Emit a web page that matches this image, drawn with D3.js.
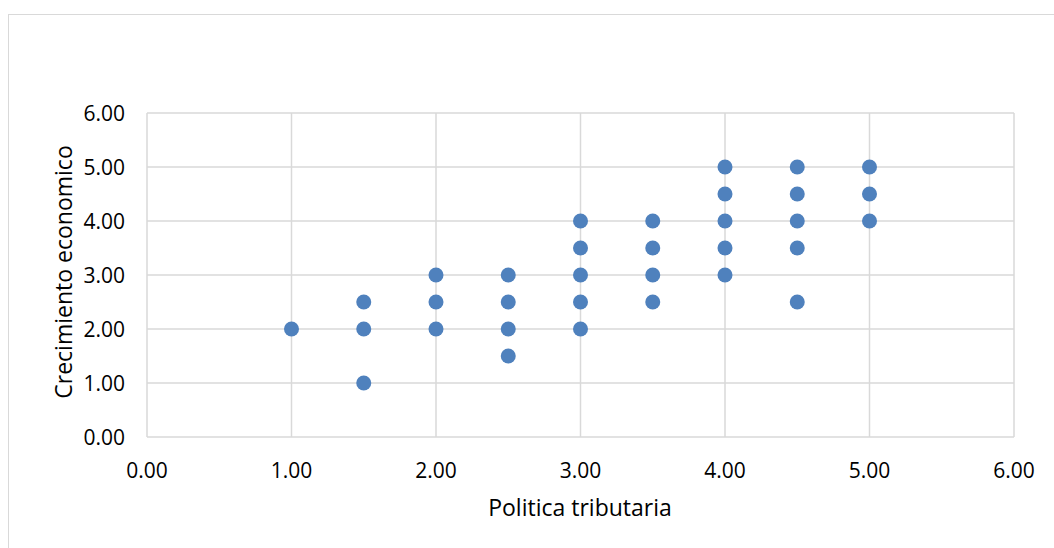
<!DOCTYPE html>
<html><head><meta charset="utf-8">
<script src="https://cdn.jsdelivr.net/npm/d3@7"></script>
<style>body{margin:0;background:#fff}svg{display:block}text{font-family:"Open Sans","Noto Sans",sans-serif;fill:#000}</style>
</head><body><svg id="c" width="1054" height="548"></svg>
<script>
const xTicks = [0,1,2,3,4,5,6];
const yTicks = [0,1,2,3,4,5,6];
const xValues = [1, 1.5,1.5,1.5, 2,2,2, 2.5,2.5,2.5,2.5, 3,3,3,3,3, 3.5,3.5,3.5,3.5, 4,4,4,4,4, 4.5,4.5,4.5,4.5,4.5, 5,5,5];
const yValues = [2, 2.5,2,1, 3,2.5,2, 3,2.5,2,1.5, 4,3.5,3,2.5,2, 4,3.5,3,2.5, 5,4.5,4,3.5,3, 5,4.5,4,3.5,2.5, 5,4.5,4];
const xTitle = "Politica tributaria";
const yTitle = "Crecimiento economico";

const svg = d3.select("#c");
svg.append("rect").attr("x",8.5).attr("y",14.5).attr("width",1060).attr("height",560)
  .attr("fill","#fff").attr("stroke","#d9d9d9").attr("stroke-width",1);
const L=147,R=1014,T=113,B=437;
const x=d3.scaleLinear().domain([0,6]).range([L,R]);
const y=d3.scaleLinear().domain([0,6]).range([B,T]);
const g=svg.append("g");
g.selectAll(".vx").data(xTicks).join("line").attr("x1",d=>x(d)).attr("x2",d=>x(d)).attr("y1",T).attr("y2",B)
  .attr("stroke","#d9d9d9").attr("stroke-width",1.5);
g.selectAll(".hy").data(yTicks).join("line").attr("y1",d=>y(d)).attr("y2",d=>y(d)).attr("x1",L).attr("x2",R)
  .attr("stroke","#d9d9d9").attr("stroke-width",1.5);
g.selectAll(".xl").data(xTicks).join("text").attr("x",d=>x(d)).attr("y",478).attr("text-anchor","middle")
  .attr("font-size",21).text(d=>d.toFixed(2));
g.selectAll(".yl").data(yTicks).join("text").attr("x",125).attr("y",d=>y(d)+7.5).attr("text-anchor","end")
  .attr("font-size",21).text(d=>d.toFixed(2));
g.selectAll("circle").data(xValues.map((v,i)=>[v,yValues[i]])).join("circle")
  .attr("cx",d=>x(d[0])).attr("cy",d=>y(d[1])).attr("r",7.5).attr("fill","#4f81bd");
svg.append("text").attr("x",580).attr("y",516).attr("text-anchor","middle").attr("font-size",23).text(xTitle);
svg.append("text").attr("transform","translate(72,272) rotate(-90)").attr("text-anchor","middle").attr("font-size",23).text(yTitle);
</script></body></html>
